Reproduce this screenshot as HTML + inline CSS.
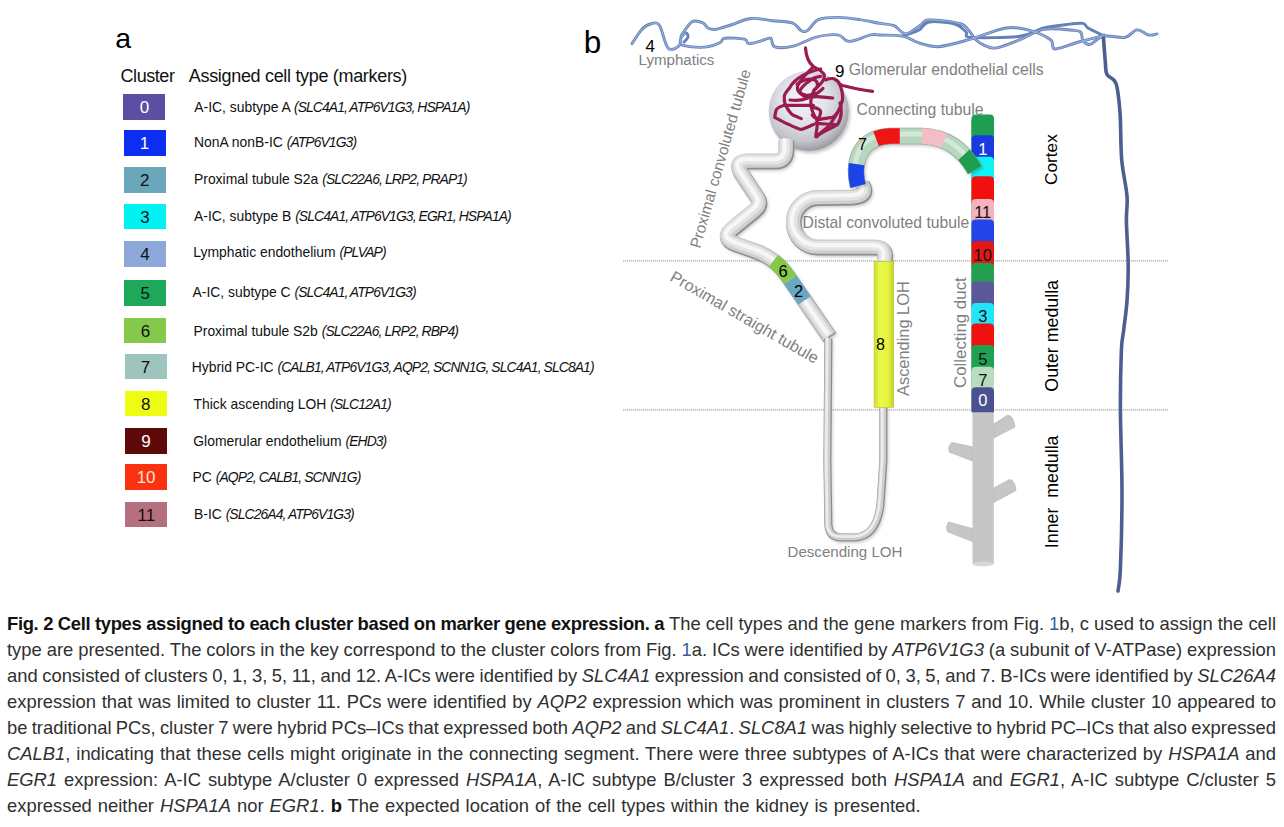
<!DOCTYPE html>
<html><head><meta charset="utf-8"><style>
html,body{margin:0;padding:0;background:#fff;width:1284px;height:827px;overflow:hidden;font-family:"Liberation Sans",sans-serif}
.t{position:absolute;white-space:nowrap}
.bx{position:absolute;width:42.2px;height:25.8px;text-align:center;font-size:17px;line-height:28.5px}
.rt{position:absolute;white-space:nowrap;font-size:13.9px;line-height:16px;color:#111;letter-spacing:0px}
.rt i{letter-spacing:-0.9px}
.g{color:#7f7f7f}

.cap{position:absolute;left:7px;white-space:nowrap;font-size:18.4px;line-height:26px;color:#303030;}
.cap b{font-weight:bold;color:#111}
.cap .bl{letter-spacing:-0.33px}
.lk{color:#3b5ba5}

</style></head><body>
<div class="bx" style="left:123.3px;top:94.2px;background:#5c4ea3;color:#fff">0</div><div class="rt" style="left:194.3px;top:99.3px">A-IC, subtype A <i>(SLC4A1, ATP6V1G3, HSPA1A)</i></div><div class="bx" style="left:123.5px;top:129.8px;background:#0b2ef0;color:#fff">1</div><div class="rt" style="left:194.0px;top:134.0px">NonA nonB-IC <i>(ATP6V1G3)</i></div><div class="bx" style="left:123.6px;top:166.9px;background:#6aa7ba;color:#111">2</div><div class="rt" style="left:194.0px;top:170.8px">Proximal tubule S2a <i>(SLC22A6, LRP2, PRAP1)</i></div><div class="bx" style="left:123.8px;top:203.6px;background:#00f3f3;color:#111">3</div><div class="rt" style="left:194.0px;top:208.3px">A-IC, subtype B <i>(SLC4A1, ATP6V1G3, EGR1, HSPA1A)</i></div><div class="bx" style="left:124.0px;top:241.1px;background:#8ea7d9;color:#111">4</div><div class="rt" style="left:193.3px;top:243.9px">Lymphatic endothelium <i>(PLVAP)</i></div><div class="bx" style="left:124.1px;top:280.3px;background:#1ea95a;color:#111">5</div><div class="rt" style="left:192.5px;top:284.0px">A-IC, subtype C <i>(SLC4A1, ATP6V1G3)</i></div><div class="bx" style="left:124.3px;top:317.5px;background:#86c84a;color:#111">6</div><div class="rt" style="left:193.5px;top:323.2px">Proximal tubule S2b <i>(SLC22A6, LRP2, RBP4)</i></div><div class="bx" style="left:124.5px;top:353.6px;background:#9ec4be;color:#111">7</div><div class="rt" style="left:191.8px;top:359.1px">Hybrid PC-IC <i>(CALB1, ATP6V1G3, AQP2, SCNN1G, SLC4A1, SLC8A1)</i></div><div class="bx" style="left:124.7px;top:390.6px;background:#eefc14;color:#111">8</div><div class="rt" style="left:193.5px;top:395.9px">Thick ascending LOH <i>(SLC12A1)</i></div><div class="bx" style="left:124.8px;top:428.4px;background:#5e0808;color:#fff">9</div><div class="rt" style="left:193.3px;top:432.6px">Glomerular endothelium <i>(EHD3)</i></div><div class="bx" style="left:125.0px;top:464.3px;background:#fb3212;color:#ffe0d0">10</div><div class="rt" style="left:192.5px;top:468.8px">PC <i>(AQP2, CALB1, SCNN1G)</i></div><div class="bx" style="left:125.2px;top:501.5px;background:#b5707f;color:#1a0a0a">11</div><div class="rt" style="left:194.0px;top:506.0px">B-IC <i>(SLC26A4, ATP6V1G3)</i></div><div class="t " style="left:115.3px;top:21.4px;font-size:28.5px;line-height:34px;color:#000">a</div><div class="t " style="left:120.5px;top:65.3px;font-size:18px;line-height:22px;color:#111;letter-spacing:-0.43px">Cluster</div><div class="t " style="left:188.8px;top:65.3px;font-size:18px;line-height:22px;color:#111;letter-spacing:-0.32px">Assigned cell type (markers)</div>
<svg style="position:absolute;left:0;top:0" width="1284" height="600" viewBox="0 0 1284 600" font-family="Liberation Sans, sans-serif">
<defs>
  <radialGradient id="sph" cx="0.45" cy="0.4" r="0.6" fx="0.42" fy="0.32">
    <stop offset="0" stop-color="#f6f7fa"/>
    <stop offset="0.5" stop-color="#dfe1e7"/>
    <stop offset="0.82" stop-color="#c3c5cb"/>
    <stop offset="1" stop-color="#9c9da3"/>
  </radialGradient>
  <filter id="blur" x="-20%" y="-20%" width="140%" height="140%"><feGaussianBlur stdDeviation="1.6"/></filter>
  <linearGradient id="tal" x1="0" y1="0" x2="1" y2="0">
    <stop offset="0" stop-color="#cfdc2a"/>
    <stop offset="0.3" stop-color="#eaf84a"/>
    <stop offset="0.7" stop-color="#e6f43e"/>
    <stop offset="1" stop-color="#c4d026"/>
  </linearGradient>
  <linearGradient id="cdg" x1="0" y1="0" x2="1" y2="0">
    <stop offset="0" stop-color="#000" stop-opacity="0.10"/>
    <stop offset="0.35" stop-color="#fff" stop-opacity="0.08"/>
    <stop offset="1" stop-color="#000" stop-opacity="0.12"/>
  </linearGradient>
</defs>

<!-- dotted layer lines -->
<line x1="623" y1="260.8" x2="1168" y2="260.8" stroke="#b0b0b0" stroke-width="1.2" stroke-dasharray="1.3 0.7"/>
<line x1="623" y1="409.8" x2="1168" y2="409.8" stroke="#b0b0b0" stroke-width="1.2" stroke-dasharray="1.3 0.7"/>

<!-- lymphatics -->
<g fill="none" stroke-linejoin="round" stroke-linecap="round">
 <g stroke="#6580b6" stroke-width="2.9">
  <path d="M632.0,43.6 C633.6,41.2 638.7,32.7 641.8,29.4 C644.9,26.1 647.6,24.7 650.5,24.0 C653.4,23.3 656.4,21.0 659.3,25.0 C662.2,29.0 664.7,44.5 668.0,48.0 C671.3,51.5 676.7,47.5 678.9,45.8 C681.1,44.1 679.8,40.1 681.0,38.0 C682.2,35.9 684.8,33.2 686.0,33.0 C687.2,32.8 688.3,35.5 688.0,37.0 C687.7,38.5 684.7,41.2 684.0,42.0"/>
  <path d="M681.0,36.0 C682.8,33.6 688.4,24.0 692.0,21.8 C695.6,19.6 700.2,21.8 702.9,22.9 C705.6,24.0 706.1,27.2 708.3,28.3 C710.5,29.4 712.2,29.9 716.0,29.4 C719.8,28.8 725.2,26.8 731.0,25.0 C736.8,23.2 743.9,19.2 750.8,18.5 C757.7,17.8 765.7,20.0 772.6,20.7 C779.5,21.4 787.6,21.3 792.3,22.9 C797.0,24.5 798.5,29.2 801.0,30.5 C803.5,31.8 804.6,32.3 807.5,30.5 C810.4,28.7 813.3,21.8 818.4,19.6 C823.5,17.4 831.1,17.4 838.0,17.4 C844.9,17.4 852.9,18.6 859.9,19.6 C866.9,20.6 874.3,22.4 880.0,23.4 C885.7,24.4 889.7,23.9 894.0,25.7 C898.3,27.4 901.4,33.9 905.7,33.9 C910.0,33.9 915.8,28.0 919.7,25.7 C923.6,23.4 922.4,20.3 929.0,19.9 C935.6,19.5 952.8,21.6 959.4,23.4 C966.0,25.1 966.1,27.7 968.8,30.4 C971.5,33.1 973.1,37.2 975.8,39.7 C978.5,42.2 981.5,44.2 985.0,45.6 C988.5,47.0 991.0,48.9 996.8,47.9 C1002.6,46.9 1012.2,42.8 1020.0,39.7 C1027.8,36.6 1034.6,30.8 1043.6,29.2 C1052.6,27.6 1067.8,29.8 1074.0,30.4 C1080.2,31.0 1079.5,31.0 1081.0,32.7 C1082.5,34.5 1081.5,39.0 1083.0,40.9 C1084.5,42.8 1086.5,45.2 1090.0,44.4 C1093.5,43.6 1098.2,37.4 1104.0,36.2 C1109.8,35.0 1119.5,38.5 1125.0,37.4 C1130.5,36.3 1133.0,30.3 1137.0,29.9 C1141.0,29.5 1145.4,34.3 1148.7,35.0 C1152.0,35.7 1155.5,34.1 1156.9,33.9"/>
  <path d="M681.0,44.7 C682.8,45.1 687.7,46.5 692.0,46.9 C696.3,47.3 702.3,47.6 707.0,46.9 C711.7,46.2 717.3,44.0 720.3,42.5 C723.2,41.0 720.7,38.8 724.7,38.2 C728.7,37.7 740.3,38.3 744.3,39.2 C748.3,40.1 746.2,43.2 748.7,43.6 C751.2,44.0 756.0,42.3 759.6,41.4 C763.2,40.5 768.0,37.3 770.5,38.2 C773.0,39.1 770.8,45.6 774.8,46.9 C778.8,48.2 787.5,47.4 794.4,45.8 C801.3,44.2 808.9,38.9 816.2,37.1 C823.5,35.3 832.5,34.2 838.0,34.9 C843.5,35.6 843.5,41.4 849.0,41.4 C854.5,41.4 865.6,36.0 870.8,34.9 C876.0,33.8 874.6,34.8 880.0,35.0 C885.4,35.2 896.4,34.8 903.0,36.2 C909.6,37.6 913.8,41.5 919.7,43.2 C925.6,45.0 930.2,47.3 938.4,46.7 C946.6,46.1 957.5,42.8 968.8,39.7 C980.1,36.6 995.9,29.6 1006.0,28.0 C1016.1,26.4 1022.1,28.4 1029.5,30.4 C1036.9,32.4 1046.3,36.6 1050.6,39.7 C1054.8,42.8 1050.3,48.6 1055.0,49.0 C1059.7,49.4 1071.6,43.9 1078.6,42.0 C1085.6,40.1 1092.8,38.6 1097.0,37.4 C1101.2,36.2 1102.8,35.4 1104.0,35.0"/>
  <path d="M903.0,36.0 C905.7,35.0 914.7,32.3 919.0,30.0 C923.3,27.7 923.0,23.0 929.0,22.0 C935.0,21.0 948.8,22.3 955.0,24.0 C961.2,25.7 963.3,29.8 966.0,32.0 C968.7,34.2 962.0,36.7 971.0,37.4 C980.0,38.1 1007.9,37.8 1020.0,36.2 C1032.1,34.6 1035.8,29.9 1043.6,28.0 C1051.4,26.1 1060.4,25.3 1067.0,24.5 C1073.6,23.7 1079.5,22.8 1083.0,23.4 C1086.5,24.0 1084.8,26.1 1088.0,28.0 C1091.2,29.9 1099.7,33.8 1102.0,35.0"/>
 </g>
 <g stroke="#97b1de" stroke-width="1.1">
  <path d="M632.0,43.6 C633.6,41.2 638.7,32.7 641.8,29.4 C644.9,26.1 647.6,24.7 650.5,24.0 C653.4,23.3 656.4,21.0 659.3,25.0 C662.2,29.0 664.7,44.5 668.0,48.0 C671.3,51.5 676.7,47.5 678.9,45.8 C681.1,44.1 679.8,40.1 681.0,38.0 C682.2,35.9 685.2,33.8 686.0,33.0"/>
  <path d="M681.0,36.0 C682.8,33.6 688.4,24.0 692.0,21.8 C695.6,19.6 700.2,21.8 702.9,22.9 C705.6,24.0 706.1,27.2 708.3,28.3 C710.5,29.4 712.2,29.9 716.0,29.4 C719.8,28.8 725.2,26.8 731.0,25.0 C736.8,23.2 743.9,19.2 750.8,18.5 C757.7,17.8 765.7,20.0 772.6,20.7 C779.5,21.4 787.6,21.3 792.3,22.9 C797.0,24.5 798.5,29.2 801.0,30.5 C803.5,31.8 804.6,32.3 807.5,30.5 C810.4,28.7 813.3,21.8 818.4,19.6 C823.5,17.4 831.1,17.4 838.0,17.4 C844.9,17.4 852.9,18.6 859.9,19.6 C866.9,20.6 874.3,22.4 880.0,23.4 C885.7,24.4 889.7,23.9 894.0,25.7 C898.3,27.4 901.4,33.9 905.7,33.9 C910.0,33.9 915.8,28.0 919.7,25.7 C923.6,23.4 922.4,20.3 929.0,19.9 C935.6,19.5 952.8,21.6 959.4,23.4 C966.0,25.1 966.1,27.7 968.8,30.4 C971.5,33.1 973.1,37.2 975.8,39.7 C978.5,42.2 981.5,44.2 985.0,45.6 C988.5,47.0 991.0,48.9 996.8,47.9 C1002.6,46.9 1012.2,42.8 1020.0,39.7 C1027.8,36.6 1034.6,30.8 1043.6,29.2 C1052.6,27.6 1067.8,29.8 1074.0,30.4 C1080.2,31.0 1079.5,31.0 1081.0,32.7 C1082.5,34.5 1081.5,39.0 1083.0,40.9 C1084.5,42.8 1086.5,45.2 1090.0,44.4 C1093.5,43.6 1098.2,37.4 1104.0,36.2 C1109.8,35.0 1119.5,38.5 1125.0,37.4 C1130.5,36.3 1133.0,30.3 1137.0,29.9 C1141.0,29.5 1145.4,34.3 1148.7,35.0 C1152.0,35.7 1155.5,34.1 1156.9,33.9"/>
  <path d="M681.0,44.7 C682.8,45.1 687.7,46.5 692.0,46.9 C696.3,47.3 702.3,47.6 707.0,46.9 C711.7,46.2 717.3,44.0 720.3,42.5 C723.2,41.0 720.7,38.8 724.7,38.2 C728.7,37.7 740.3,38.3 744.3,39.2 C748.3,40.1 746.2,43.2 748.7,43.6 C751.2,44.0 756.0,42.3 759.6,41.4 C763.2,40.5 768.0,37.3 770.5,38.2 C773.0,39.1 770.8,45.6 774.8,46.9 C778.8,48.2 787.5,47.4 794.4,45.8 C801.3,44.2 808.9,38.9 816.2,37.1 C823.5,35.3 832.5,34.2 838.0,34.9 C843.5,35.6 843.5,41.4 849.0,41.4 C854.5,41.4 865.6,36.0 870.8,34.9 C876.0,33.8 874.6,34.8 880.0,35.0 C885.4,35.2 896.4,34.8 903.0,36.2 C909.6,37.6 913.8,41.5 919.7,43.2 C925.6,45.0 930.2,47.3 938.4,46.7 C946.6,46.1 957.5,42.8 968.8,39.7 C980.1,36.6 995.9,29.6 1006.0,28.0 C1016.1,26.4 1022.1,28.4 1029.5,30.4 C1036.9,32.4 1046.3,36.6 1050.6,39.7 C1054.8,42.8 1050.3,48.6 1055.0,49.0 C1059.7,49.4 1071.6,43.9 1078.6,42.0 C1085.6,40.1 1092.8,38.6 1097.0,37.4 C1101.2,36.2 1102.8,35.4 1104.0,35.0"/>
 </g>
 <path stroke="#4d5f90" stroke-width="3.6" d="M1103.5,38.0 C1103.8,42.0 1104.7,55.7 1105.3,61.8 C1105.9,67.9 1105.2,70.9 1107.0,74.5 C1108.8,78.1 1113.8,77.2 1116.0,83.5 C1118.2,89.8 1119.0,99.8 1120.0,112.5 C1121.0,125.2 1120.5,145.8 1121.7,159.7 C1122.9,173.6 1126.2,185.8 1127.0,196.0 C1127.8,206.2 1126.2,209.5 1126.4,221.0 C1126.6,232.5 1128.1,251.6 1128.2,264.9 C1128.3,278.2 1127.8,290.1 1127.0,301.0 C1126.2,311.9 1124.6,321.9 1123.7,330.0 C1122.8,338.1 1122.0,336.5 1121.4,349.6 C1120.9,362.7 1120.3,384.5 1120.4,408.4 C1120.5,432.3 1122.0,466.4 1122.0,493.0 C1122.0,519.6 1121.1,552.0 1120.4,568.3 C1119.7,584.6 1118.4,587.2 1118.0,591.0"/>
</g>

<!-- tubule shadows -->
<g fill="none" stroke="#000" stroke-opacity="0.2" filter="url(#blur)" transform="translate(1.8,2.4)">
 <path stroke-width="15" d="M786,140 L786,150 Q786,161 775,161 L748,161 Q734,161 741,173 L757,197 Q762,204 755,210 L733,228 Q720,238 736,244 L757,251.4 Q775,258 787,275 L829.4,336.8"/>
 <path stroke-width="15" d="M884.3,262 L884.8,256 Q885,247 874,247 L818,247 A24.75,24.75 0 0 1 818,197.5 L852,197 Q869,196 862,184"/>
 <path stroke-width="7" d="M828,338 L827,460 L828,525 Q829,537 841,537 L856,537 Q876,535 880,505 L883,460 L883,406"/>
 <circle cx="808.7" cy="111" r="40" fill="#000" stroke="none" fill-opacity="0.22"/>
</g>
<!-- glomerulus sphere -->
<circle cx="808.7" cy="111" r="40" fill="url(#sph)"/>

<!-- PCT tube -->
<g fill="none" stroke-linejoin="round">
 <path stroke="#8e8e8e" stroke-width="15.5" transform="translate(0.5,0.7)" d="M786,140 L786,150 Q786,161 775,161 L748,161 Q734,161 741,173 L757,197 Q762,204 755,210 L733,228 Q720,238 736,244 L757,251.4 Q775,258 787,275 L829.4,336.8"/>
 <path stroke="#cfcfcf" stroke-width="14.3" transform="translate(-0.3,-0.4)" d="M786,140 L786,150 Q786,161 775,161 L748,161 Q734,161 741,173 L757,197 Q762,204 755,210 L733,228 Q720,238 736,244 L757,251.4 Q775,258 787,275 L829.4,336.8"/>
 <path stroke="#e4e4e4" stroke-width="9.6" transform="translate(-0.9,-1.2)" d="M786,140 L786,150 Q786,161 775,161 L748,161 Q734,161 741,173 L757,197 Q762,204 755,210 L733,228 Q720,238 736,244 L757,251.4 Q775,258 787,275 L829.4,336.8"/>
 <path stroke="#f7f7f7" stroke-width="4" transform="translate(-1.4,-1.8)" d="M786,140 L786,150 Q786,161 775,161 L748,161 Q734,161 741,173 L757,197 Q762,204 755,210 L733,228 Q720,238 736,244 L757,251.4 Q775,258 787,275 L829.4,336.8"/>
 <path stroke="#8e8e8e" stroke-width="15.5" transform="translate(0.5,0.7)" d="M884.3,262 L884.8,256 Q885,247 874,247 L818,247 A24.75,24.75 0 0 1 818,197.5 L852,197 Q869,196 862,184"/>
 <path stroke="#cfcfcf" stroke-width="14.3" transform="translate(-0.3,-0.4)" d="M884.3,262 L884.8,256 Q885,247 874,247 L818,247 A24.75,24.75 0 0 1 818,197.5 L852,197 Q869,196 862,184"/>
 <path stroke="#e4e4e4" stroke-width="9.6" transform="translate(-0.9,-1.2)" d="M884.3,262 L884.8,256 Q885,247 874,247 L818,247 A24.75,24.75 0 0 1 818,197.5 L852,197 Q869,196 862,184"/>
 <path stroke="#f7f7f7" stroke-width="4" transform="translate(-1.4,-1.8)" d="M884.3,262 L884.8,256 Q885,247 874,247 L818,247 A24.75,24.75 0 0 1 818,197.5 L852,197 Q869,196 862,184"/>
 <path stroke="#8c8c8c" stroke-width="8" transform="translate(0.4,0.4)" d="M828,338 L827,460 L828,525 Q829,537 841,537 L856,537 Q876,535 880,505 L883,460 L883,406"/>
 <path stroke="#cdcdcd" stroke-width="6.3" d="M828,338 L827,460 L828,525 Q829,537 841,537 L856,537 Q876,535 880,505 L883,460 L883,406"/>
 <path stroke="#ededed" stroke-width="2.6" transform="translate(-0.8,-0.5)" d="M828,338 L827,460 L828,525 Q829,537 841,537 L856,537 Q876,535 880,505 L883,460 L883,406"/>
</g>

<!-- PST colored segments 6 and 2 -->
<g fill="none" stroke-width="15">
 <path pathLength="100" stroke="#86c84a" stroke-dasharray="0 68.9 8.35 200" d="M786,140 L786,150 Q786,161 775,161 L748,161 Q734,161 741,173 L757,197 Q762,204 755,210 L733,228 Q720,238 736,244 L757,251.4 Q775,258 787,275 L829.4,336.8"/>
 <path pathLength="100" stroke="#6aa8c2" stroke-dasharray="0 77.25 8.26 200" d="M786,140 L786,150 Q786,161 775,161 L748,161 Q734,161 741,173 L757,197 Q762,204 755,210 L733,228 Q720,238 736,244 L757,251.4 Q775,258 787,275 L829.4,336.8"/>
</g>

<!-- TAL -->
<rect x="874.1" y="261.3" width="19.6" height="146" fill="url(#tal)" stroke="#b8c42a" stroke-width="0.6"/>

<!-- collecting duct -->
<g>
 <rect x="972.5" y="410" width="21.3" height="154" fill="#c6c6c6"/>
 <ellipse cx="983.1" cy="564" rx="10.6" ry="2.6" fill="#d8d8d8"/>
 <g fill="#c6c6c6" stroke="#b0b0b0" stroke-width="0.6">
  <path d="M993.8,424 L1007.3,415.3 Q1013,414 1015,427 L993.8,438 Z"/>
  <path d="M972.5,446.8 L951.8,442.5 Q947,447 949.6,452.3 L972.5,461 Z"/>
  <path d="M993.8,488 L1009.5,479.5 Q1015,480 1016,490.4 L993.8,502.4 Z"/>
  <path d="M972.5,528.5 L948.5,522 Q945,527 947.4,531.8 L972.5,541.6 Z"/>
 </g>
</g>
<g>
 <rect x="971.5" y="120" width="22.5" height="290" fill="#1d9e50"/>
 <path d="M971.5,120 Q982.7,113 994,120 Z" fill="#1d9e50"/>
</g>
<g><path d="M971.5,118.5 Q971.5,114.5 976.0,114.5 L989.5,114.5 Q994.0,114.5 994.0,118.5 L994.0,139.7 L971.5,139.7 Z" fill="#1d9e50"/><path d="M971.5,139.2 Q971.5,135.2 976.0,135.2 L989.5,135.2 Q994.0,135.2 994.0,139.2 L994.0,161.3 L971.5,161.3 Z" fill="#1a3ae0"/><path d="M971.5,160.8 Q971.5,156.8 976.0,156.8 L989.5,156.8 Q994.0,156.8 994.0,160.8 L994.0,180.8 L971.5,180.8 Z" fill="#12f2f4"/><path d="M971.5,180.3 Q971.5,176.3 976.0,176.3 L989.5,176.3 Q994.0,176.3 994.0,180.3 L994.0,203.4 L971.5,203.4 Z" fill="#f01010"/><path d="M971.5,202.9 Q971.5,198.9 976.0,198.9 L989.5,198.9 Q994.0,198.9 994.0,202.9 L994.0,224 L971.5,224 Z" fill="#f3b4bc"/><path d="M971.5,223.5 Q971.5,219.5 976.0,219.5 L989.5,219.5 Q994.0,219.5 994.0,223.5 L994.0,245.6 L971.5,245.6 Z" fill="#2244e8"/><path d="M971.5,245.1 Q971.5,241.1 976.0,241.1 L989.5,241.1 Q994.0,241.1 994.0,245.1 L994.0,267.4 L971.5,267.4 Z" fill="#e01818"/><path d="M971.5,266.9 Q971.5,262.9 976.0,262.9 L989.5,262.9 Q994.0,262.9 994.0,266.9 L994.0,285.9 L971.5,285.9 Z" fill="#22a050"/><path d="M971.5,285.4 Q971.5,281.4 976.0,281.4 L989.5,281.4 Q994.0,281.4 994.0,285.4 L994.0,307.5 L971.5,307.5 Z" fill="#5a5898"/><path d="M971.5,307.0 Q971.5,303.0 976.0,303.0 L989.5,303.0 Q994.0,303.0 994.0,307.0 L994.0,328 L971.5,328 Z" fill="#22e6f8"/><path d="M971.5,327.5 Q971.5,323.5 976.0,323.5 L989.5,323.5 Q994.0,323.5 994.0,327.5 L994.0,349.6 L971.5,349.6 Z" fill="#f01010"/><path d="M971.5,349.1 Q971.5,345.1 976.0,345.1 L989.5,345.1 Q994.0,345.1 994.0,349.1 L994.0,371.2 L971.5,371.2 Z" fill="#20a050"/><path d="M971.5,370.7 Q971.5,366.7 976.0,366.7 L989.5,366.7 Q994.0,366.7 994.0,370.7 L994.0,391.8 L971.5,391.8 Z" fill="#b8dcc0"/><path d="M971.5,391.3 Q971.5,387.3 976.0,387.3 L989.5,387.3 Q994.0,387.3 994.0,391.3 L994.0,412.3 L971.5,412.3 Z" fill="#4a5090"/><text x="982.75" y="154.7" font-size="16.5" text-anchor="middle" fill="#fff">1</text><text x="982.75" y="217.89999999999998" font-size="16.5" text-anchor="middle" fill="#111">11</text><text x="982.75" y="260.7" font-size="16.5" text-anchor="middle" fill="#111">10</text><text x="982.75" y="321.95" font-size="16.5" text-anchor="middle" fill="#111">3</text><text x="982.75" y="364.59999999999997" font-size="16.5" text-anchor="middle" fill="#111">5</text><text x="982.75" y="385.7" font-size="16.5" text-anchor="middle" fill="#111">7</text><text x="982.75" y="406.25" font-size="16.5" text-anchor="middle" fill="#fff">0</text></g>

<!-- connecting tubule arc -->
<g fill="none" stroke-width="15.5">
 <path stroke="#000" stroke-opacity="0.2" stroke-width="16" filter="url(#blur)" transform="translate(1.5,2)" d="M858,186 C853,166 856,138 890,136 L922,136 C946,137 962,148 975,170"/>
 <path stroke="#7f9486" stroke-width="16.5" d="M858,186 C853,166 856,138 890,136 L922,136 C946,137 962,148 975,170"/>
 <path stroke="#b7d6bf" d="M858,186 C853,166 856,138 890,136 L922,136 C946,137 962,148 975,170"/>
 <path stroke="#d2e8d8" stroke-width="5" transform="translate(-1,-2)" d="M858,186 C853,166 856,138 890,136 L922,136 C946,137 962,148 975,170"/>
 <path pathLength="100" stroke="#1a44e6" stroke-dasharray="0 0 13.1 200" d="M858,186 C853,166 856,138 890,136 L922,136 C946,137 962,148 975,170"/>
 <path pathLength="100" stroke="#f01414" stroke-dasharray="0 33.2 14.2 200" d="M858,186 C853,166 856,138 890,136 L922,136 C946,137 962,148 975,170"/>
 <path pathLength="100" stroke="#f4bcc4" stroke-dasharray="0 60.7 13.5 200" d="M858,186 C853,166 856,138 890,136 L922,136 C946,137 962,148 975,170"/>
 <path pathLength="100" stroke="#1f9e50" stroke-dasharray="0 88.8 11.2 200" d="M858,186 C853,166 856,138 890,136 L922,136 C946,137 962,148 975,170"/>
</g>
<!-- capillary tuft -->
<g fill="none" stroke="#9a1a52" stroke-width="3.2" stroke-linecap="round" stroke-linejoin="round">
 <path d="M805.5,47.9 C806,56 809,63 813.4,66.6 C818,69 823,71 824.3,75 C825,80 820,85 815.8,88.4 C812,92 810,100 811,106 C812,112 815,117 817,120 C818,126 816,132 815.8,136.7 C822,132 832,128 837.5,124.6 C842,118 842,108 840,103"/>
 <path d="M820.6,69 C812,71 806,73 801.3,76.3 C795,80 791,85 789.2,88.4 C786,92 784,95 784.3,97 C784,101 785,104 785.6,105.3 C788,110 790,113 792.8,115 L801.3,118.6"/>
 <path d="M784.3,105.3 C778,107 776,109 775.9,111.3 C775,114 775,116 774.7,117.4 C780,120 785,123 789.2,124.6 C794,127 798,129 801.3,129.5 C806,128 810,126 813.4,124.6"/>
 <path d="M813.4,66.6 C806,74 800,80 797.6,86 C797,89 798,91 798.9,92 C802,94 805,95 807.3,95.6 C811,95 814,94 817,93.2 C820,91 822,90 823,88.4"/>
 <path d="M825.5,79.9 C828,79 831,78 833.9,78.7 C837,80 839,82 840,84.7 C842,90 843,96 842.4,100.5 C841,106 839,110 837.5,112.6 C835,117 832,121 830.3,124.6 C826,129 820,133 817,136.7"/>
 <path d="M784.3,105.3 L813.4,105.3"/>
 <path d="M803.7,95.6 C812,96 822,97 832.7,98"/>
 <path d="M817,119.8 C822,119 828,118 832.7,117.4 C835,116 836,114 837.5,112.6"/>
 <path d="M815.8,123.4 C822,124 829,124 835.1,124.6"/>
 <path d="M840,84.7 C842,85 843,86 844.8,86 C852,88 862,90 872.6,91.4"/>
 <path d="M813.4,107.7 C818,108 821,110 820.6,112.6 C820,116 819,118 818.2,118.6 C815,118 813,117 812.2,115"/>
 <path d="M797,84 C803,80 810,78 815,80 C819,83 818,88 814,90"/>
 <path d="M790,100 C796,101 803,100 808,98"/>
 <path d="M820.6,76.3 C816,77 813,78 811,80 C806,83 803,86 801.3,88.4 C800,90 799.5,92 800,93.2 C802,95 804,96 806,96.8 C809,97 812,97 814.6,96.8"/>
</g>

<!-- labels -->
<g fill="#7f7f7f">
 <text x="638.6" y="65.2" font-size="15.1">Lymphatics</text>
 <text x="848.8" y="74.7" font-size="15.8">Glomerular endothelial cells</text>
 <text x="856.6" y="115" font-size="15.75">Connecting tubule</text>
 <text x="802.6" y="228.2" font-size="15.7">Distal convoluted tubule</text>
 <text x="787.5" y="556.7" font-size="15.1">Descending LOH</text>
 <text transform="translate(700,249) rotate(-74)" font-size="15.4">Proximal convoluted tubule</text>
 <text transform="translate(669,280) rotate(30)" font-size="16.1">Proximal straight tubule</text>
 <text transform="translate(909,396) rotate(-90)" font-size="16.4">Ascending LOH</text>
 <text transform="translate(966,388) rotate(-90)" font-size="16.9">Collecting duct</text>
</g>
<g fill="#000">
 <text x="583.8" y="53.2" font-size="31.5">b</text>
 <text x="645.5" y="52.2" font-size="17">4</text>
 <text x="835" y="77.3" font-size="17">9</text>
 <text x="876" y="349.5" font-size="16">8</text>
 <text x="778.5" y="277" font-size="16.5">6</text>
 <text x="794" y="296.5" font-size="16.5">2</text>
 <text x="858" y="150" font-size="16">7</text>
 <text transform="translate(1057.3,185.1) rotate(-90)" font-size="17.3">Cortex</text>
 <text transform="translate(1057.8,391.7) rotate(-90)" font-size="17.8">Outer medulla</text>
 <text transform="translate(1057.8,548.2) rotate(-90)" font-size="17.8" xml:space="preserve">Inner  medulla</text>
</g>
</svg>

<div class="cap" style="top:611.02px;word-spacing:-0.012px"><b class="bl">Fig. 2 Cell types assigned to each cluster based on marker gene expression. a</b> The cell types and the gene markers from Fig. <span class="lk">1</span>b, c used to assign the cell</div><div class="cap" style="top:637.02px;word-spacing:-0.187px">type are presented. The colors in the key correspond to the cluster colors from Fig. <span class="lk">1</span>a. ICs were identified by <i>ATP6V1G3</i> (a subunit of V-ATPase) expression</div><div class="cap" style="top:663.02px;word-spacing:-0.577px">and consisted of clusters 0, 1, 3, 5, 11, and 12. A-ICs were identified by <i>SLC4A1</i> expression and consisted of 0, 3, 5, and 7. B-ICs were identified by <i>SLC26A4</i></div><div class="cap" style="top:689.02px;word-spacing:0.684px">expression that was limited to cluster 11. PCs were identified by <i>AQP2</i> expression which was prominent in clusters 7 and 10. While cluster 10 appeared to</div><div class="cap" style="top:715.02px;word-spacing:-0.828px">be traditional PCs, cluster 7 were hybrid PCs–ICs that expressed both <i>AQP2</i> and <i>SLC4A1</i>. <i>SLC8A1</i> was highly selective to hybrid PC–ICs that also expressed</div><div class="cap" style="top:741.02px;word-spacing:0.790px"><i>CALB1</i>, indicating that these cells might originate in the connecting segment. There were three subtypes of A-ICs that were characterized by <i>HSPA1A</i> and</div><div class="cap" style="top:767.02px;word-spacing:1.894px"><i>EGR1</i> expression: A-IC subtype A/cluster 0 expressed <i>HSPA1A</i>, A-IC subtype B/cluster 3 expressed both <i>HSPA1A</i> and <i>EGR1</i>, A-IC subtype C/cluster 5</div><div class="cap" style="top:793.02px;word-spacing:0.800px">expressed neither <i>HSPA1A</i> nor <i>EGR1</i>. <b>b</b> The expected location of the cell types within the kidney is presented.</div>
</body></html>
